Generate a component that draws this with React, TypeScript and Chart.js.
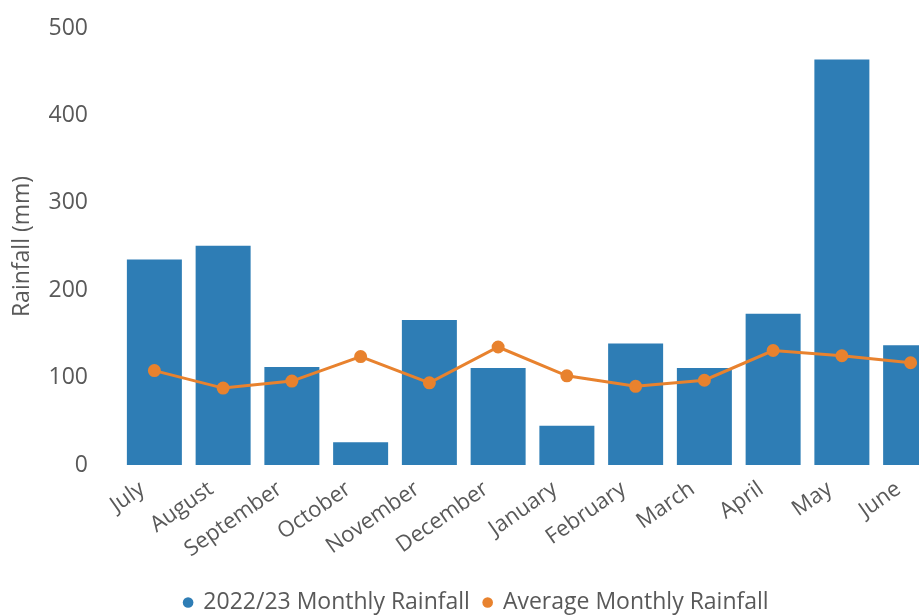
import React, { useEffect, useRef } from "react";
import { Chart, registerables } from "chart.js";

Chart.register(...registerables);

const months = ["July", "August", "September", "October", "November", "December", "January", "February", "March", "April", "May", "June"];
const rainfall2223 = [235, 251, 112, 26, 166, 111, 45, 139, 111, 173, 464, 137];
const averageRainfall = [108, 88, 96, 124, 94, 135, 102, 90, 97, 131, 125, 117];
const yTicks = [0, 100, 200, 300, 400, 500];

const FONT = "'Open Sans', 'Noto Sans', sans-serif";
const GREY = "#595959";
const BLUE = "#2E7DB5";
const ORANGE = "#E8822E";

export default function App() {
  const ref = useRef<HTMLCanvasElement | null>(null);

  useEffect(() => {
    document.body.style.margin = "0";
    document.body.style.overflow = "hidden";
    if (!ref.current) return;
    const chart = new Chart(ref.current, {
      type: "bar",
      data: {
        labels: months,
        datasets: [
          {
            type: "line",
            label: "Average Monthly Rainfall",
            data: averageRainfall,
            borderColor: ORANGE,
            backgroundColor: ORANGE,
            borderWidth: 3,
            pointRadius: 5,
            pointBackgroundColor: ORANGE,
            pointBorderColor: ORANGE,
            tension: 0,
            order: 0,
          },
          {
            type: "bar",
            label: "2022/23 Monthly Rainfall",
            data: rainfall2223,
            backgroundColor: BLUE,
            borderWidth: 0,
            categoryPercentage: 0.8,
            barPercentage: 1.0,
            order: 1,
          },
        ],
      },
      options: {
        responsive: false,
        animation: false,
        layout: { padding: { top: 28, left: 0, right: 0, bottom: 0 } },
        plugins: {
          legend: {
            position: "bottom",
            reverse: true,
            labels: {
              usePointStyle: true,
              pointStyle: "circle",
              boxWidth: 7.5,
              boxHeight: 7.5,
              padding: 14,
              color: GREY,
              font: { family: FONT, size: 23 },
              generateLabels: (c: any) => {
                const items = Chart.defaults.plugins.legend.labels.generateLabels(c);
                return items.map((it: any) => ({ ...it, lineWidth: 0, strokeStyle: it.fillStyle }));
              },
            },
          },
          tooltip: { enabled: false },
        },
        scales: {
          x: {
            grid: { display: false, drawTicks: false },
            border: { display: false },
            afterFit: (axis: any) => {
              axis.height = 112;
            },
            ticks: {
              color: GREY,
              font: { family: FONT, size: 22 },
              minRotation: 35,
              maxRotation: 35,
              padding: 11,
              labelOffset: -12,
              autoSkip: false,
            },
          },
          y: {
            min: 0,
            max: 500,
            afterBuildTicks: (axis: any) => {
              axis.ticks = yTicks.map((v) => ({ value: v }));
            },
            afterFit: (axis: any) => {
              axis.width = 120;
              axis.paddingTop = 14;
              axis.paddingBottom = 14;
            },
            grid: { display: false, drawTicks: false },
            border: { display: false },
            title: {
              display: true,
              text: "Rainfall (mm)",
              color: GREY,
              font: { family: FONT, size: 23 },
              padding: { top: 9, bottom: 0 },
            },
            ticks: {
              color: GREY,
              font: { family: FONT, size: 23 },
              padding: 32,
            },
          },
        },
      },
    });
    return () => chart.destroy();
  }, []);

  return (
    <div style={{ width: 919, height: 615, overflow: "hidden", position: "relative" }}>
      <canvas ref={ref} width={953} height={624} style={{ display: "block" }} />
    </div>
  );
}
